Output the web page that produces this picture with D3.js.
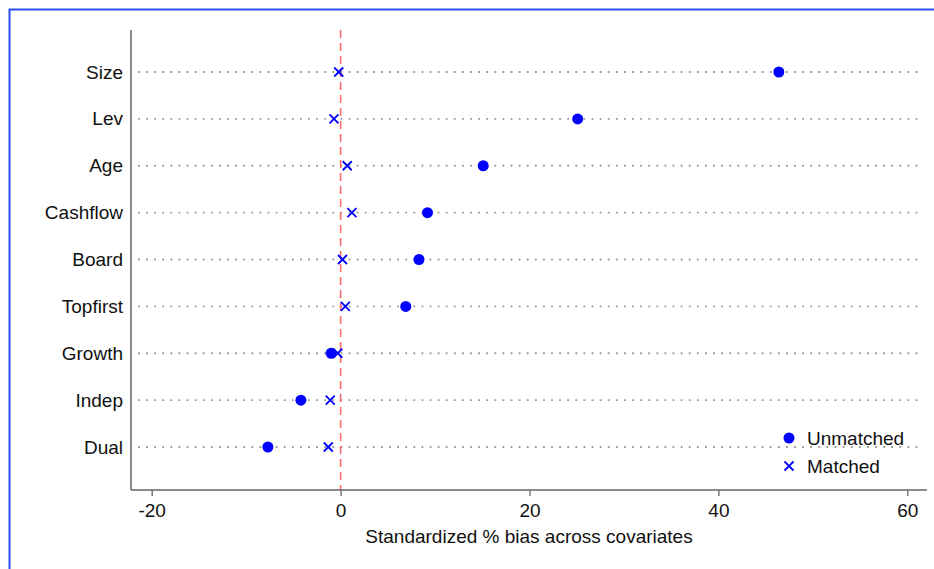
<!DOCTYPE html>
<html>
<head>
<meta charset="utf-8">
<script src="https://cdn.jsdelivr.net/npm/d3@7"></script>
<style>
  body { margin: 0; background: #fff; }
  svg { display: block; font-family: "Liberation Sans", Arial, sans-serif; }
</style>
</head>
<body>
<div id="chart"></div>
<script>
// covariates, top to bottom
const covariates = ['Size', 'Lev', 'Age', 'Cashflow', 'Board', 'Topfirst', 'Growth', 'Indep', 'Dual']
// standardized % bias before / after matching
const unmatched = [46.4, 25.1, 15.1, 9.2, 8.3, 6.9, -1.0, -4.2, -7.7]
const matched = [-0.2, -0.7, 0.7, 1.2, 0.2, 0.5, -0.3, -1.1, -1.3]
const xTicks = [-20, 0, 20, 40, 60]

const W = 934, H = 569
const svg = d3.select('#chart').append('svg')
  .attr('width', W).attr('height', H)

// blue frame (only top and left edges visible)
svg.append('path')
  .attr('d', `M9.5,${H}V9.5H${W}`)
  .attr('fill', 'none').attr('stroke', '#2b4ff0').attr('stroke-width', 2)

const plotL = 131, plotR = 927, plotT = 30, plotB = 490
const fs = '19px'
const x = d3.scaleLinear().domain([-20, 60]).range([151.7, 907.3])
const y = d3.scalePoint().domain(covariates).range([72, 447])

// dotted guide lines
svg.append('g').selectAll('line').data(covariates).join('line')
  .attr('x1', 138).attr('x2', 920)
  .attr('y1', d => y(d)).attr('y2', d => y(d))
  .attr('stroke', '#999').attr('stroke-width', 1.8)
  .attr('stroke-dasharray', '1.8 6.3')

// zero reference line
svg.append('line')
  .attr('x1', x(0)).attr('x2', x(0)).attr('y1', plotT).attr('y2', plotB)
  .attr('stroke', '#ff6b6b').attr('stroke-width', 1.6)
  .attr('stroke-dasharray', '8 5')

// axes
const xAxis = svg.append('g')
  .attr('transform', `translate(0,${plotB})`)
  .call(d3.axisBottom(x).tickValues(xTicks).tickFormat(d => String(d)).tickSize(6).tickPadding(8).tickSizeOuter(0))
xAxis.select('.domain').remove()
xAxis.append('line').attr('x1', plotL).attr('x2', plotR).attr('stroke', '#666').attr('stroke-width', 1.5)
xAxis.selectAll('.tick line').attr('stroke', '#666').attr('stroke-width', 1.3)
xAxis.selectAll('.tick text').attr('fill', '#111').style('font-size', fs)
  .style('font-family', '"Liberation Sans", Arial, sans-serif')

const yAxis = svg.append('g')
  .attr('transform', `translate(${plotL},0)`)
  .call(d3.axisLeft(y).tickSize(0).tickPadding(8))
yAxis.select('.domain').remove()
yAxis.append('line').attr('y1', plotT).attr('y2', plotB).attr('stroke', '#666').attr('stroke-width', 1.5)
yAxis.selectAll('.tick text').attr('fill', '#111').style('font-size', fs)
  .style('font-family', '"Liberation Sans", Arial, sans-serif')

svg.append('text')
  .attr('x', 529).attr('y', 543)
  .attr('text-anchor', 'middle')
  .style('font-size', fs).attr('fill', '#111')
  .text('Standardized % bias across covariates')

const blue = '#0000ff'
const crossPath = 'M-4.5,-4.5L4.5,4.5M-4.5,4.5L4.5,-4.5'

// unmatched points
svg.append('g').selectAll('circle').data(covariates).join('circle')
  .attr('cx', (d, i) => x(unmatched[i])).attr('cy', d => y(d))
  .attr('r', 5.5).attr('fill', blue)

// matched points
svg.append('g').selectAll('path').data(covariates).join('path')
  .attr('transform', (d, i) => `translate(${x(matched[i])},${y(d)})`)
  .attr('d', crossPath).attr('stroke', blue).attr('stroke-width', 1.8).attr('fill', 'none')

// legend
const leg = svg.append('g').attr('transform', 'translate(789,438)')
leg.append('circle').attr('r', 5.5).attr('fill', blue)
leg.append('text').attr('x', 18).attr('y', 7).style('font-size', fs).attr('fill', '#111').text('Unmatched')
leg.append('path').attr('transform', 'translate(0,28)').attr('d', crossPath)
  .attr('stroke', blue).attr('stroke-width', 1.8)
leg.append('text').attr('x', 18).attr('y', 35).style('font-size', fs).attr('fill', '#111').text('Matched')
</script>
</body>
</html>
